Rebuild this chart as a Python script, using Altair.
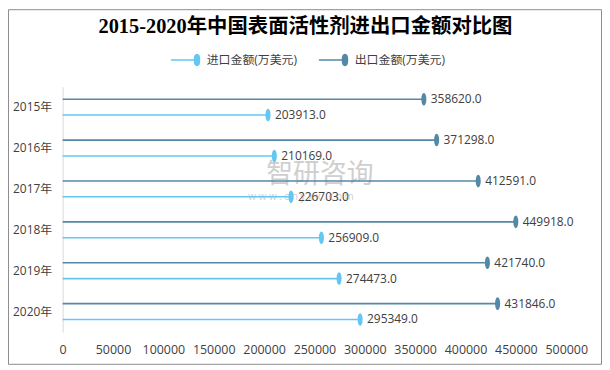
import altair as alt
import pandas as pd

years = ["2015年", "2016年", "2017年", "2018年", "2019年", "2020年"]
exports = [358620.0, 371298.0, 412591.0, 449918.0, 421740.0, 431846.0]
imports = [203913.0, 210169.0, 226703.0, 256909.0, 274473.0, 295349.0]
series_imp = "进口金额(万美元)"
series_exp = "出口金额(万美元)"
x_ticks = [0, 50000, 100000, 150000, 200000, 250000, 300000, 350000, 400000, 450000, 500000]

rows = []
for y, e, i in zip(years, exports, imports):
    rows.append({"year": y, "series": series_exp, "value": e})
    rows.append({"year": y, "series": series_imp, "value": i})
df = pd.DataFrame(rows)

FONT = "Open Sans, Noto Sans CJK SC, sans-serif"
col_imp = "#63c7f2"
col_exp = "#5389a6"
color_scale = alt.Scale(domain=[series_imp, series_exp], range=[col_imp, col_exp])

W, H = 507, 247

y_enc = alt.Y("year:N", sort=years, title=None,
              scale=alt.Scale(domain=years, paddingInner=0, paddingOuter=0),
              axis=alt.Axis(ticks=False, domain=True, domainColor="#d9d9d9", domainWidth=1,
                            labelFont=FONT, labelFontSize=12, labelColor="#404040",
                            labelPadding=11, grid=False))
yoff_enc = alt.YOffset("series:N", scale=alt.Scale(domain=[series_exp, series_imp],
                                                  paddingInner=0, paddingOuter=0.29))
x_enc = alt.X("value:Q", title=None,
              scale=alt.Scale(domain=[0, 500000], nice=False),
              axis=alt.Axis(values=x_ticks, format="d", ticks=False, domain=False, grid=False,
                            labelOverlap=False, labelFlush=False,
                            labelFont=FONT, labelFontSize=12.5, labelColor="#404040",
                            labelPadding=12))

legend_sym = "M-1,0 L0.7,0 M0.75,-0.37 A0.17,0.37 0 1,1 0.75,0.37 A0.17,0.37 0 1,1 0.75,-0.37 Z"
leg = alt.Legend(title=None, orient="none", legendX=108, legendY=-43, direction="horizontal",
                 symbolType=legend_sym, symbolSize=900, symbolStrokeWidth=1.5,
                 labelFont=FONT, labelFontSize=12, labelColor="#404040",
                 labelOffset=5, columnPadding=18)

base = alt.Chart(df)

rules = base.mark_rule(strokeWidth=1.6).encode(
    y=y_enc, yOffset=yoff_enc, x=x_enc, x2=alt.datum(0),
    color=alt.Color("series:N", scale=color_scale, legend=leg),
)

ellipse = "M0,-1 A0.4,1 0 1,1 0,1 A0.4,1 0 1,1 0,-1 Z"
points = base.mark_point(filled=True, shape=ellipse, size=160, opacity=1).encode(
    y=y_enc, yOffset=yoff_enc, x="value:Q",
    color=alt.Color("series:N", scale=color_scale, legend=leg),
)

labels = base.mark_text(align="left", baseline="middle", dx=7, font=FONT, fontSize=12,
                        color="#404040").encode(
    y=y_enc, yOffset=yoff_enc, x="value:Q",
    text=alt.Text("value:Q", format=".1f"),
)

wm = pd.DataFrame({"t": ["智研咨询"]})
watermark = alt.Chart(wm).mark_text(font="Noto Sans CJK SC", fontSize=27, color="#c4c4c4",
                                    opacity=0.8, align="center", baseline="middle").encode(
    text="t:N", x=alt.value(259), y=alt.value(89))
wm2 = pd.DataFrame({"t": ["w w w . c h y x x . c o m"]})
watermark2 = alt.Chart(wm2).mark_text(font=FONT, fontSize=10, color="#c4c4c4",
                                      opacity=0.8, align="center", baseline="middle").encode(
    text="t:N", x=alt.value(240), y=alt.value(111))

border_df = pd.DataFrame({"k": [1]})
border = alt.Chart(border_df).mark_rect(fill=None, stroke="#8c8c8c", strokeWidth=1).encode(
    x=alt.value(-54.5), x2=alt.value(542.5), y=alt.value(-77.5), y2=alt.value(279.5))

chart = alt.layer(border, watermark, watermark2, rules, points, labels).properties(
    width=W, height=H,
    title=alt.TitleParams("2015-2020年中国表面活性剂进出口金额对比图",
                          font="Liberation Serif, Noto Sans CJK SC, serif", fontSize=20.5,
                          fontWeight="bold", color="#000000", anchor="middle", frame="group",
                          dx=-9, offset=-28),
    autosize=alt.AutoSizeParams(type="none"),
    padding={"left": 55, "top": 78, "right": 36, "bottom": 33},
).configure_view(stroke=None).resolve_scale(color="shared")

chart.save("out.html", embed_options={"renderer": "svg", "actions": False})
